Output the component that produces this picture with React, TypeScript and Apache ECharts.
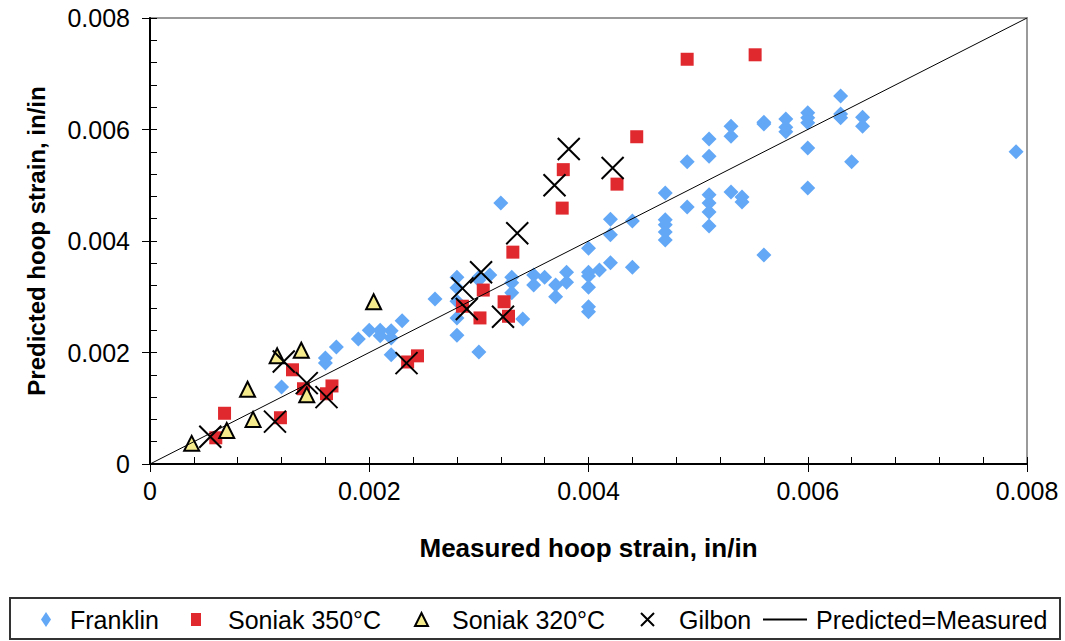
import React, { useEffect, useRef } from "react";
import * as echarts from "echarts";

const xTicks = [0, 0.002, 0.004, 0.006, 0.008];
const yTicks = [0, 0.002, 0.004, 0.006, 0.008];

const franklin: [number, number][] = [
  [0.0012, 0.00138], [0.0016, 0.0019], [0.0016, 0.00181], [0.0017, 0.0021],
  [0.0019, 0.00224], [0.002, 0.0024], [0.0021, 0.0024], [0.0021, 0.0023],
  [0.0022, 0.00239], [0.0022, 0.00226], [0.0023, 0.00257], [0.0022, 0.00196],
  [0.0026, 0.00296], [0.0028, 0.00335], [0.0028, 0.00316], [0.0028, 0.00292],
  [0.0028, 0.00262], [0.0028, 0.00231], [0.003, 0.00201], [0.003, 0.00335],
  [0.003, 0.0033], [0.0031, 0.00339], [0.0032, 0.00468], [0.0033, 0.00335],
  [0.0033, 0.00325], [0.0033, 0.00307], [0.0034, 0.0026], [0.0035, 0.00339],
  [0.0035, 0.00321], [0.0036, 0.00335], [0.0037, 0.00321], [0.0037, 0.003],
  [0.0038, 0.00344], [0.0038, 0.00326], [0.004, 0.00387], [0.004, 0.00344],
  [0.004, 0.00337], [0.004, 0.00317], [0.004, 0.00282], [0.004, 0.00273],
  [0.0041, 0.00348], [0.0042, 0.00439], [0.0042, 0.00411], [0.0042, 0.00361],
  [0.0044, 0.00436], [0.0044, 0.00353], [0.0047, 0.00486], [0.0047, 0.00438],
  [0.0047, 0.00429], [0.0047, 0.00416], [0.0047, 0.00402], [0.0049, 0.00542],
  [0.0049, 0.00461], [0.0051, 0.00583], [0.0051, 0.00552], [0.0051, 0.00483],
  [0.0051, 0.00468], [0.0051, 0.00452], [0.0051, 0.00427], [0.0053, 0.00606],
  [0.0053, 0.00588], [0.0053, 0.00488], [0.0054, 0.00479], [0.0054, 0.0047],
  [0.0056, 0.00613], [0.0056, 0.0061], [0.0056, 0.00375], [0.0058, 0.00619],
  [0.0058, 0.00604], [0.0058, 0.00596], [0.006, 0.0063], [0.006, 0.00621],
  [0.006, 0.00612], [0.006, 0.00567], [0.006, 0.00495], [0.0063, 0.0066],
  [0.0063, 0.00628], [0.0063, 0.00621], [0.0064, 0.00542], [0.0065, 0.00622],
  [0.0065, 0.00606], [0.0079, 0.0056],
];

const soniak350: [number, number][] = [
  [0.0006, 0.00047], [0.00068, 0.00091], [0.00119, 0.00083], [0.0013, 0.00169],
  [0.0014, 0.00135], [0.00161, 0.00126], [0.00166, 0.0014], [0.00235, 0.00183],
  [0.00244, 0.00194], [0.00285, 0.00283], [0.00301, 0.00262], [0.00304, 0.00312],
  [0.00323, 0.00291], [0.00327, 0.00265], [0.00331, 0.0038], [0.00376, 0.00459],
  [0.00377, 0.00528], [0.00426, 0.00502], [0.00444, 0.00587], [0.0049, 0.00726],
  [0.00552, 0.00734],
];

const soniak320: [number, number][] = [
  [0.00038, 0.00037], [0.0007, 0.0006], [0.00094, 0.0008], [0.00089, 0.00134],
  [0.00116, 0.00194], [0.00138, 0.00204], [0.00143, 0.00124], [0.00204, 0.00291],
];

const gilbon: [number, number][] = [
  [0.00055, 0.00049], [0.00114, 0.00076], [0.00122, 0.00184], [0.00143, 0.00145],
  [0.00161, 0.0012], [0.00234, 0.00181], [0.00285, 0.00315], [0.00289, 0.00278],
  [0.00302, 0.00344], [0.00322, 0.00264], [0.00335, 0.00414], [0.00369, 0.005],
  [0.00382, 0.00565], [0.00422, 0.00531],
];

const identityLine: [number, number][] = [
  [0, 0],
  [0.008, 0.008],
];

const seriesNames = ["Franklin", "Soniak 350°C", "Soniak 320°C", "Gilbon", "Predicted=Measured"];

const FONT = "'Liberation Sans', Arial, Helvetica, sans-serif";

export default function App() {
  const ref = useRef<HTMLDivElement>(null);

  useEffect(() => {
    if (!ref.current) return;
    const chart = echarts.init(ref.current, null, { renderer: "svg" });
    const xMin = xTicks[0];
    const xMax = xTicks[xTicks.length - 1];
    const yMin = yTicks[0];
    const yMax = yTicks[yTicks.length - 1];
    const majorX = xTicks[1] - xTicks[0];
    const majorY = yTicks[1] - yTicks[0];

    const legendSpec = [
      { name: seriesNames[0], left: 41, w: 10, h: 15, pad: 14 },
      { name: seriesNames[1], left: 191, w: 10, h: 13, pad: 22 },
      { name: seriesNames[2], left: 414, w: 13, h: 13, pad: 19 },
      { name: seriesNames[3], left: 640, w: 13, h: 14, pad: 20 },
      { name: seriesNames[4], left: 762, w: 44, h: 14, pad: 4, hideSymbol: true },
    ];

    chart.setOption({
      animation: false,
      textStyle: { fontFamily: FONT },
      grid: {
        left: 150,
        right: 38,
        top: 18,
        bottom: 177,
        show: true,
        borderColor: "#9a9a9a",
        borderWidth: 2,
        backgroundColor: "transparent",
      },
      graphic: [
        {
          type: "rect",
          shape: { x: 10, y: 598, width: 1050, height: 41 },
          style: { fill: "none", stroke: "#333", lineWidth: 2 },
          z: 0,
        },
      ],
      legend: legendSpec.map((l) => ({
        data: [l.name],
        left: l.left,
        top: 607,
        padding: 0,
        itemWidth: l.w,
        itemHeight: l.h,
        selectedMode: false,
        ...(l.hideSymbol ? { itemStyle: { opacity: 0 } } : {}),
        textStyle: {
          fontSize: 25,
          color: "#000",
          fontFamily: FONT,
          padding: [0, 0, 0, l.pad],
        },
      })),
      xAxis: [
        {
          type: "value",
          min: xMin,
          max: xMax,
          interval: majorX,
          position: "bottom",
          axisLine: { show: true, lineStyle: { color: "#000", width: 2 } },
          axisTick: { show: true, inside: false, length: 8, lineStyle: { color: "#000", width: 1 } },
          axisLabel: { fontSize: 25, color: "#000", margin: 14, fontFamily: FONT },
          splitLine: { show: false },
          name: "Measured hoop strain, in/in",
          nameLocation: "middle",
          nameGap: 71,
          nameTextStyle: { fontSize: 26, fontWeight: "bold", color: "#000", fontFamily: FONT },
        },
        {
          type: "value",
          min: xMin,
          max: xMax,
          interval: majorX / 5,
          position: "bottom",
          axisLine: { show: false },
          axisTick: { show: true, inside: true, length: 7, lineStyle: { color: "#000", width: 1 } },
          axisLabel: { show: false },
          splitLine: { show: false },
        },
      ],
      yAxis: [
        {
          type: "value",
          min: yMin,
          max: yMax,
          interval: majorY,
          position: "left",
          axisLine: { show: true, lineStyle: { color: "#000", width: 2 } },
          axisTick: { show: true, inside: false, length: 8, lineStyle: { color: "#000", width: 1 } },
          axisLabel: { fontSize: 25, color: "#000", margin: 20, fontFamily: FONT },
          splitLine: { show: false },
          name: "Predicted hoop strain, in/in",
          nameLocation: "middle",
          nameGap: 102,
          nameTextStyle: { fontSize: 24, fontWeight: "bold", color: "#000", fontFamily: FONT },
        },
        {
          type: "value",
          min: yMin,
          max: yMax,
          interval: majorY / 5,
          position: "left",
          axisLine: { show: false },
          axisTick: { show: true, inside: true, length: 7, lineStyle: { color: "#000", width: 1 } },
          axisLabel: { show: false },
          splitLine: { show: false },
        },
      ],
      series: [
        {
          name: seriesNames[0],
          type: "scatter",
          data: franklin,
          symbol: "diamond",
          symbolSize: 15,
          itemStyle: { color: "#63A8F6", opacity: 1 },
          silent: true,
        },
        {
          name: seriesNames[1],
          type: "scatter",
          data: soniak350,
          symbol: "rect",
          symbolSize: 13,
          itemStyle: { color: "#E0292F", opacity: 1 },
          silent: true,
        },
        {
          name: seriesNames[2],
          type: "scatter",
          data: soniak320,
          symbol: "triangle",
          symbolSize: 15,
          itemStyle: { color: "#F5EA8C", borderColor: "#000", borderWidth: 2, opacity: 1 },
          silent: true,
        },
        {
          name: seriesNames[3],
          type: "scatter",
          data: gilbon,
          symbol: "path://M0,0L10,10M10,0L0,10",
          symbolSize: 22,
          itemStyle: { color: "#000", borderColor: "#000", borderWidth: 2, opacity: 1 },
          silent: true,
        },
        {
          name: seriesNames[4],
          type: "line",
          data: identityLine,
          symbol: "none",
          itemStyle: { color: "#000" },
          lineStyle: { color: "#000", width: 1 },
          silent: true,
          z: 3,
        },
      ],
    });
    return () => chart.dispose();
  }, []);

  return (
    <div
      ref={ref}
      style={{ position: "absolute", left: 0, top: 0, width: 1065, height: 641, background: "#fff" }}
    />
  );
}
